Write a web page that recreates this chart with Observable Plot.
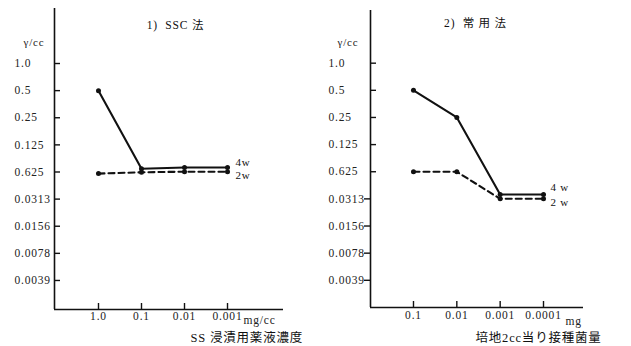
<!DOCTYPE html>
<html>
<head>
<meta charset="utf-8">
<script src="https://cdn.jsdelivr.net/npm/d3@7"></script>
<script src="https://cdn.jsdelivr.net/npm/@observablehq/plot@0.6"></script>
<style>
  html, body { margin: 0; padding: 0; background: #fff; }
  #wrap { position: relative; width: 631px; height: 346px; overflow: hidden; }
  #left { position: absolute; left: 0; top: 0; }
  #right { position: absolute; left: 316px; top: 0; }
  svg text { letter-spacing: 0.8px; }
</style>
</head>
<body>
<div id="wrap"><div id="left"></div><div id="right"></div></div>
<script>
// ---- data ----
const leftCategories = ["1.0", "0.1", "0.01", "0.001"];
const left4w = [0.5, 0.068, 0.070, 0.070];
const left2w = [0.060, 0.062, 0.063, 0.063];

const rightCategories = ["0.1", "0.01", "0.001", "0.0001"];
const right4w = [0.5, 0.25, 0.035, 0.035];
const right2w = [0.0625, 0.0625, 0.0313, 0.0313];

const yTickValues = [1, 0.5, 0.25, 0.125, 0.0625, 0.03125, 0.015625, 0.0078125, 0.00390625];
const yTickLabels = ["1.0", "0.5", "0.25", "0.125", "0.625", "0.0313", "0.0156", "0.0078", "0.0039"];

const leftTitle = "1)  SSC 法";
const rightTitle = "2)  常 用 法";
const yUnit = "γ/cc";
const leftXUnit = "mg/cc";
const rightXUnit = "mg";
const leftXTitle = "SS 浸漬用薬液濃度";
const rightXTitle = "培地2cc当り接種菌量";
const seriesLeft = ["4w", "2w"];
const seriesRight = ["4 w", "2 w"];

const FONT = "'Liberation Serif','Noto Sans CJK JP',serif";

function panel(cfg) {
  const rows = cfg.cats.map((c, i) => ({i, cat: c, w4: cfg.w4[i], w2: cfg.w2[i]}));
  const last = rows[rows.length - 1];
  const [xmin, xmax] = cfg.xDomain;
  const [ymin, ymax] = cfg.yDomain;
  const pxX = (xmax - xmin) / (cfg.width - cfg.ml - cfg.mr);
  const pxY = Math.log2(ymax / ymin) / (cfg.height - cfg.mt - cfg.mb);
  const ticks = yTickValues.map((v, k) => ({v, label: yTickLabels[k], out: cfg.outward && k >= 5}));
  return Plot.plot({
    width: cfg.width, height: cfg.height,
    marginLeft: cfg.ml, marginRight: cfg.mr, marginTop: cfg.mt, marginBottom: cfg.mb,
    style: {fontFamily: FONT, fontSize: "11px", background: "transparent", color: "#111"},
    x: {type: "linear", domain: cfg.xDomain, axis: null},
    y: {type: "log", base: 2, domain: cfg.yDomain, axis: null},
    marks: [
      // axis lines
      Plot.ruleX([xmin], {y1: ymin, y2: ymax, stroke: "#111", strokeWidth: 1.6}),
      Plot.ruleY([ymin], {x1: xmin, x2: xmax, stroke: "#111", strokeWidth: 1.6}),
      // y ticks
      Plot.ruleY(ticks, {y: "v", x1: d => d.out ? xmin - 6 * pxX : xmin, x2: d => d.out ? xmin : xmin + 6 * pxX, stroke: "#111", strokeWidth: 1.4}),
      Plot.text(ticks, {y: "v", x: xmin, text: "label", textAnchor: "start", dx: cfg.labelDx, fontSize: 11.5, fill: "#222"}),
      // x ticks
      Plot.ruleX(rows, {x: "i", y1: ymin, y2: ymin * Math.pow(2, 6 * pxY), stroke: "#111", strokeWidth: 1.4}),
      Plot.text(rows, {x: "i", y: ymin, text: "cat", dy: cfg.xLabelDy, fontSize: 11.5, fill: "#222"}),
      // series
      Plot.line(rows, {x: "i", y: "w2", stroke: "#111", strokeWidth: 2.1, strokeDasharray: "6,4"}),
      Plot.line(rows, {x: "i", y: "w4", stroke: "#111", strokeWidth: 2.1}),
      Plot.dot(rows, {x: "i", y: "w2", r: 2.5, fill: "#111"}),
      Plot.dot(rows, {x: "i", y: "w4", r: 2.5, fill: "#111"}),
      Plot.text([last], {x: "i", y: "w4", text: () => cfg.series[0], textAnchor: "start", dx: cfg.s4[0], dy: cfg.s4[1], fontSize: 11, fill: "#111"}),
      Plot.text([last], {x: "i", y: "w2", text: () => cfg.series[1], textAnchor: "start", dx: cfg.s2[0], dy: cfg.s2[1], fontSize: 11, fill: "#111"}),
      // titles & units
      Plot.text([cfg.title], {frameAnchor: "top-left", text: d => d, dx: cfg.titlePos[0], dy: cfg.titlePos[1], textAnchor: "middle", fontSize: 11.5, fill: "#111"}),
      Plot.text([yUnit], {frameAnchor: "top-left", text: d => d, dx: cfg.unitPos[0], dy: cfg.unitPos[1], textAnchor: "start", fontSize: 11, fill: "#222"}),
      Plot.text([cfg.xUnit], {frameAnchor: "top-left", text: d => d, dx: cfg.xUnitPos[0], dy: cfg.xUnitPos[1], textAnchor: "start", fontSize: 11.5, fill: "#222"}),
      Plot.text([cfg.xTitle], {frameAnchor: "top-left", text: d => d, dx: cfg.xTitlePos[0], dy: cfg.xTitlePos[1], textAnchor: "start", fontSize: 12.5, fill: "#111"})
    ]
  });
}

document.getElementById("left").appendChild(panel({
  cats: leftCategories, w4: left4w, w2: left2w,
  width: 316, height: 346, ml: 54, mr: 33, mt: 8, mb: 37,
  xDomain: [-1.023, 4.302], yDomain: [0.00186, 4.08],
  labelDx: -40, xLabelDy: 7, outward: false,
  series: seriesLeft, s4: [8, -5], s2: [8, 4],
  title: leftTitle, titlePos: [121, 12],
  unitPos: [-31, 30], xUnit: leftXUnit, xUnitPos: [189, 307], xTitle: leftXTitle, xTitlePos: [136, 325]
}));

document.getElementById("right").appendChild(panel({
  cats: rightCategories, w4: right4w, w2: right2w,
  width: 315, height: 346, ml: 54, mr: 48, mt: 10, mb: 39,
  xDomain: [-0.992, 3.923], yDomain: [0.00195, 3.84],
  labelDx: -42, xLabelDy: 8, outward: true,
  series: seriesRight, s4: [7, -7], s2: [7, 4],
  title: rightTitle, titlePos: [105, 8],
  unitPos: [-33, 28], xUnit: rightXUnit, xUnitPos: [195, 306], xTitle: rightXTitle, xTitlePos: [105, 323]
}));
</script>
</body>
</html>
